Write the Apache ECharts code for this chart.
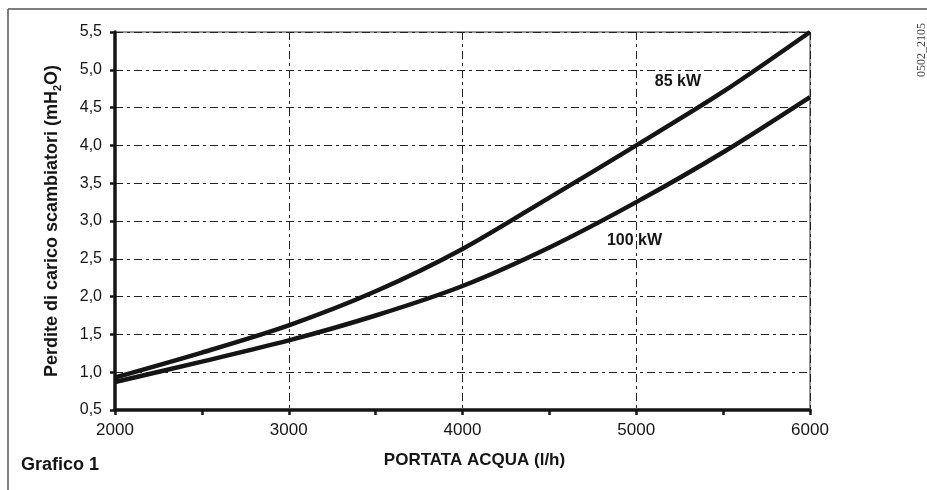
<!DOCTYPE html>
<html>
<head>
<meta charset="utf-8">
<script src="https://cdn.jsdelivr.net/npm/echarts@6/dist/echarts.min.js"></script>
<style>
html,body{margin:0;padding:0;background:#fff;}
#chart{width:927px;height:490px;}
</style>
</head>
<body>
<div id="chart"></div>
<script>
// Data
var flowRates = [2000, 2500, 3000, 3500, 4000, 4500, 5000, 5500, 6000];
var loss85kW  = [0.93, 1.26, 1.62, 2.07, 2.63, 3.31, 4.00, 4.71, 5.50];
var loss100kW = [0.87, 1.14, 1.42, 1.75, 2.14, 2.65, 3.25, 3.91, 4.64];
var seriesNames = ['85 kW', '100 kW'];
var label85Pos = [5240, 4.85];
var label100Pos = [4990, 2.74];

function pairs(xs, ys) { return xs.map(function (x, i) { return [x, ys[i]]; }); }

var ink = '#151515';
var gridDash = { color: '#222', width: 1, type: [8, 4, 3, 4] };
var font = 'Liberation Sans, Arial, sans-serif';

var chart = echarts.init(document.getElementById('chart'), null, { renderer: 'canvas' });
chart.setOption({
  backgroundColor: '#fff',
  animation: false,
  grid: { left: 115, right: 117, top: 32, bottom: 80, show: true, borderColor: '#333', borderWidth: 1 },
  xAxis: {
    type: 'value', min: 2000, max: 6000, interval: 1000,
    name: 'PORTATA ACQUA (l/h)', nameLocation: 'middle', nameGap: 42,
    nameTextStyle: { fontFamily: font, fontWeight: 'bold', fontSize: 17, color: ink, padding: [0, 0, 0, 24] },
    axisLine: { lineStyle: { color: ink, width: 3.5 } },
    axisTick: { show: true, length: 5, lineStyle: { color: ink, width: 2.5 } },
    minorTick: { show: true, splitNumber: 2, length: 5, lineStyle: { color: ink, width: 2.5 } },
    axisLabel: { fontFamily: font, fontSize: 17, color: ink, margin: 12,
      formatter: function (v) { return String(v); } },
    splitLine: { show: true, lineStyle: gridDash }
  },
  yAxis: {
    type: 'value', min: 0.5, max: 5.5, interval: 0.5,
    name: 'Perdite di carico scambiatori (mH{sub|2}O)', nameLocation: 'middle', nameGap: 52,
    nameRotate: 90,
    nameTextStyle: {
      fontFamily: font, fontWeight: 'bold', fontSize: 18, color: ink,
      rich: { sub: { fontFamily: font, fontWeight: 'bold', fontSize: 11, color: ink, verticalAlign: 'bottom', padding: [10, 0, 0, 0] } }
    },
    axisLine: { show: true, lineStyle: { color: ink, width: 3.5 } },
    axisTick: { show: true, length: 5, lineStyle: { color: ink, width: 2.5 } },
    axisLabel: {
      fontFamily: font, fontSize: 16, color: ink, margin: 13,
      formatter: function (v) { return v.toFixed(1).replace('.', ','); }
    },
    splitLine: { show: true, lineStyle: gridDash }
  },
  series: [
    {
      name: seriesNames[0], type: 'line', data: pairs(flowRates, loss85kW),
      smooth: 0.3, showSymbol: false, lineStyle: { color: ink, width: 4.5 }, z: 5,
      markPoint: {
        symbol: 'circle', symbolSize: 0,
        label: { show: true, position: 'inside', formatter: seriesNames[0], fontFamily: font, fontWeight: 'bold', fontSize: 16, color: ink },
        data: [{ coord: label85Pos }]
      }
    },
    {
      name: seriesNames[1], type: 'line', data: pairs(flowRates, loss100kW),
      smooth: 0.3, showSymbol: false, lineStyle: { color: ink, width: 4.5 }, z: 5,
      markPoint: {
        symbol: 'circle', symbolSize: 0,
        label: { show: true, position: 'inside', formatter: seriesNames[1], fontFamily: font, fontWeight: 'bold', fontSize: 16, color: ink },
        data: [{ coord: label100Pos }]
      }
    }
  ],
  graphic: [
    { type: 'line', shape: { x1: 8, y1: 9, x2: 927, y2: 9 }, style: { stroke: '#555', lineWidth: 1.5 } },
    { type: 'line', shape: { x1: 8, y1: 9, x2: 8, y2: 490 }, style: { stroke: '#555', lineWidth: 1.5 } },
    { type: 'text', left: 21, top: 456, style: { text: 'Grafico 1', font: 'bold 18px ' + font, fill: ink } },
    { type: 'text', x: 922, y: 50, rotation: Math.PI / 2,
      style: { text: '0502_2105', font: '12px "Liberation Serif", "Times New Roman", serif', fill: '#444', textAlign: 'center', textVerticalAlign: 'middle' } }
  ]
});
</script>
</body>
</html>
